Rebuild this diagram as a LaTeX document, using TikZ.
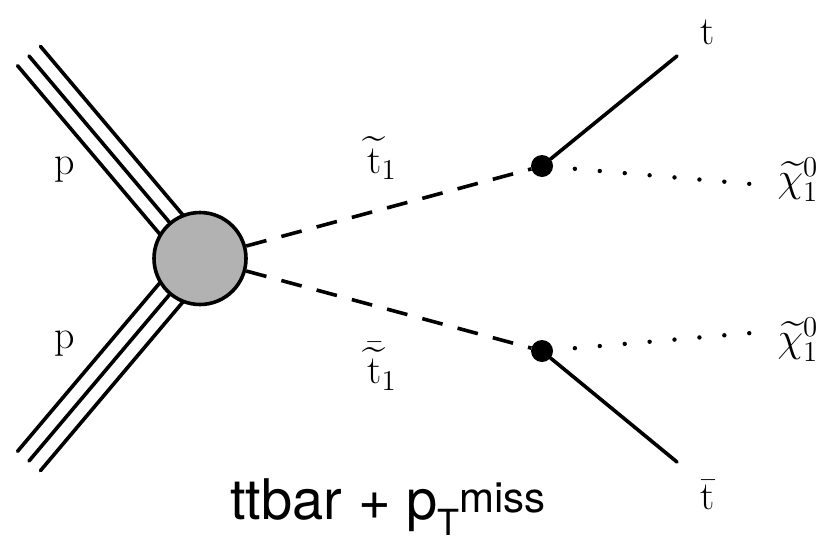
\documentclass[tikz,border=0pt]{standalone}
\usepackage{exscale}
\usepackage{fontspec}
\newfontfamily\capfont{TeX Gyre Heros}
\usetikzlibrary{calc}

\tikzset{proton/.style={line width=1.8pt,line cap=round}}
\tikzset{blob/.style={circle,draw,line width=1.8pt,fill=black!30,minimum size=46pt,inner sep=0pt}}
\tikzset{vertex/.style={circle,fill=black,minimum size=11pt,inner sep=0pt,outer sep=0pt}}
\tikzset{sparticle/.style={line width=1.8pt,dash pattern=on 10.5pt off 7.75pt}}
\tikzset{fermion/.style={line width=1.8pt,line cap=round}}
\tikzset{lsp/.style={line width=2.2pt,line cap=round,dash pattern=on 0pt off 12.5pt,shorten <=11pt}}
\tikzset{lbl/.style={font=\fontsize{20}{24}\selectfont,inner sep=0pt}}
\tikzset{caption/.style={font=\capfont\fontsize{28}{32}\selectfont,inner sep=0pt,anchor=base west}}

\begin{document}
\begin{tikzpicture}[x=0.5pt,y=-0.5pt]%1 unit = 1 px of the 822x540 picture
  \useasboundingbox (0,0) rectangle (822,540);
  \coordinate (ip) at (200,258.5);
  \coordinate (pa) at (29,56);
  \coordinate (pb) at (29,461);
  \foreach \s in {-7.5,0,7.5}{
    \draw [proton] ($(pa)!\s pt!90:(ip)$) -- ($(ip)!\s pt!-90:(pa)$);
    \draw [proton] ($(pb)!\s pt!90:(ip)$) -- ($(ip)!\s pt!-90:(pb)$);
  }
  \node [blob] (blob) at (ip) {};
  \node [vertex] (v1) at (542,166) {};
  \node [vertex] (v2) at (542,351) {};
  \coordinate (tq) at (677,56);
  \coordinate (tb) at (677,462);
  \coordinate (n1) at (751,184);
  \coordinate (n2) at (751,333);
  \draw [sparticle] (blob) -- (v1);
  \draw [sparticle] (blob) -- (v2);
  \draw [fermion] (v1) -- (tq);
  \draw [fermion] (v2) -- (tb);
  \draw [lsp] (v1) -- (n1);
  \draw [lsp] (v2) -- (n2);
  % labels
  \node [lbl] (p1) at (65,170) {$\mathrm{p}$};
  \node [lbl] (p2) at (65,344) {$\mathrm{p}$};
  \node [lbl] (st) at (382,158) {$\widetilde{\mathrm{t}}_1$};
  \node [lbl] (sbt) at (382,366) {$\bar{\widetilde{\mathrm{t}}}_1$};
  \node [lbl] (t) at (708,32) {$\mathrm{t}$};
  \node [lbl] (tbar) at (708,495) {$\bar{\mathrm{t}}$};
  \node [lbl] (chi1) at (798,180) {$\widetilde{\chi}^0_1$};
  \node [lbl] (chi2) at (798,340) {$\widetilde{\chi}^0_1$};
  \node [caption] (title) at (230,519) {ttbar + p\raisebox{-8pt}{\fontsize{18}{18}\selectfont T}\raisebox{3.5pt}{\fontsize{21}{21}\selectfont miss}};
\end{tikzpicture}
\end{document}
